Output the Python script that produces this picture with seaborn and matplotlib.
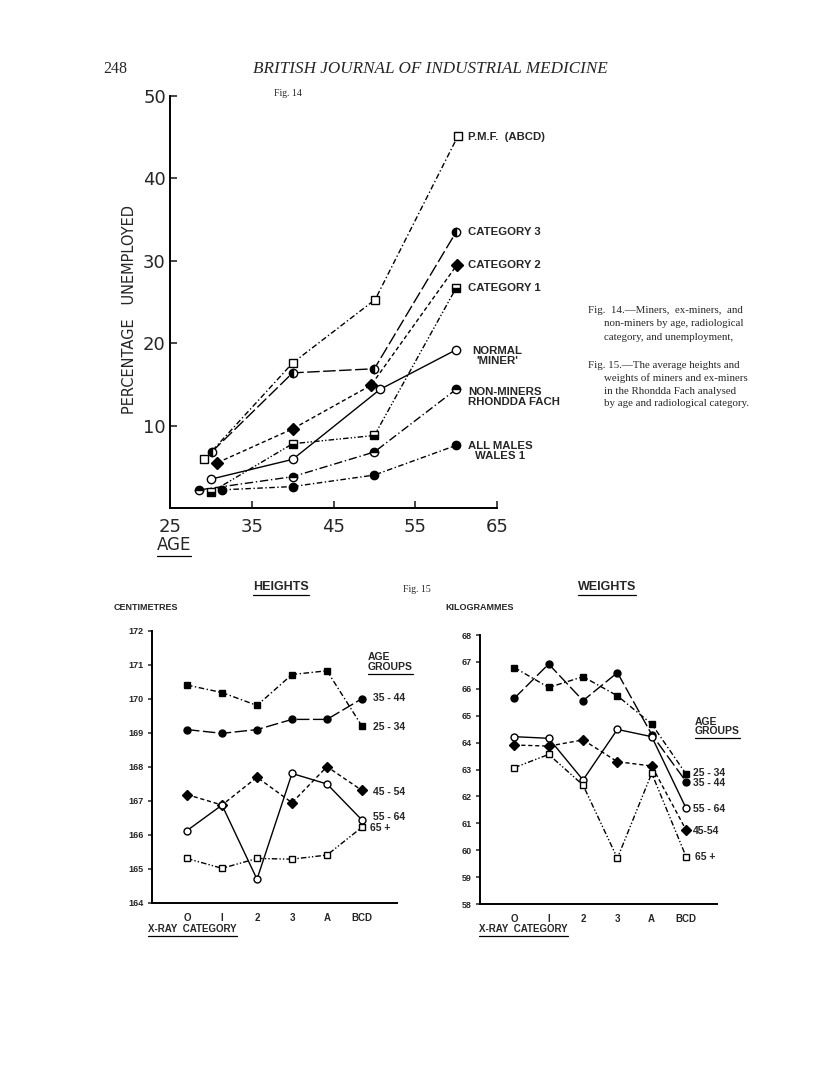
import matplotlib
matplotlib.use("Agg")
import matplotlib.pyplot as plt
import seaborn as sns
import numpy as np
from matplotlib.lines import Line2D

# ---------------- DATA ----------------
# Fig. 14: percentage unemployed by age
pmf_age = [29.2, 40.0, 50.1, 60.2]
pmf_pct = [5.9, 17.6, 25.3, 45.1]
cat3_age = [30.1, 40.0, 50.0, 60.0]
cat3_pct = [6.8, 16.4, 16.9, 33.5]
cat2_age = [30.8, 40.0, 49.6, 60.1]
cat2_pct = [5.5, 9.6, 14.9, 29.5]
cat1_age = [30.0, 40.0, 50.0, 60.0]
cat1_pct = [1.9, 7.8, 8.8, 26.7]
normal_age = [30.0, 40.0, 50.7, 60.0]
normal_pct = [3.5, 5.9, 14.4, 19.2]
nonminer_age = [28.6, 40.0, 50.0, 60.0]
nonminer_pct = [2.2, 3.8, 6.8, 14.4]
wales_age = [31.3, 40.0, 50.0, 60.0]
wales_pct = [2.2, 2.6, 4.0, 7.6]

fig14_xticks = [25, 35, 45, 55, 65]
fig14_yticks = [10, 20, 30, 40, 50]

# Fig. 15: X-ray categories
xray_categories = ["O", "I", "2", "3", "A", "BCD"]
age_groups = ["25 - 34", "35 - 44", "45 - 54", "55 - 64", "65 +"]

height_25_34 = [170.41, 170.19, 169.81, 170.72, 170.83, 169.20]
height_35_44 = [169.10, 168.99, 169.10, 169.40, 169.40, 170.01]
height_45_54 = [167.19, 166.88, 167.70, 166.95, 168.01, 167.31]
height_55_64 = [166.13, 166.88, 164.70, 167.81, 167.50, 166.44]
height_65_up = [165.31, 165.02, 165.31, 165.29, 165.41, 166.23]

weight_25_34 = [66.79, 66.05, 66.45, 65.74, 64.69, 62.83]
weight_35_44 = [65.65, 66.92, 65.56, 66.60, 64.30, 62.55]
weight_45_54 = [63.91, 63.87, 64.10, 63.29, 63.13, 60.75]
weight_55_64 = [64.22, 64.16, 62.61, 64.49, 64.22, 61.56]
weight_65_up = [63.07, 63.56, 62.42, 59.70, 62.86, 59.76]

height_ticks = list(range(164, 173))
weight_ticks = list(range(58, 69))

# ---------------- FIGURE ----------------
sns.set_style("ticks")
plt.rcParams['font.family'] = ['Liberation Sans', 'DejaVu Sans']

W, H = 816, 1077
fig = plt.figure(figsize=(W / 100, H / 100), dpi=100)
fig.patch.set_facecolor("white")


def axes_px(l, t, r, b):
    return fig.add_axes([l / W, 1 - b / H, (r - l) / W, (b - t) / H])


def ftext(x, y, s, **kw):
    return fig.text(x / W, 1 - y / H, s, **kw)


DASHDOT = (0, (4, 1.8, 1, 1.8))
DASHDOT2 = (0, (6, 2, 1, 2))
DASHDOTDOT = (0, (4, 1.5, 1, 1.5, 1, 1.5))
LONGDASH = (0, (9, 2.5))
SHORTDASH = (0, (3, 2))


def draw(ax, x, y, marker, ls, fill="full", face="black", ms=6, lw=1.0):
    sns.lineplot(x=x, y=y, ax=ax, color="black", linestyle=ls, linewidth=lw,
                 marker=marker, markersize=ms, markerfacecolor=face,
                 markeredgecolor="black", markeredgewidth=1.0,
                 fillstyle=fill, markerfacecoloralt="white",
                 sort=False, estimator=None, legend=False)


def style_axes(ax):
    for s in ["top", "right"]:
        ax.spines[s].set_visible(False)
    for s in ["left", "bottom"]:
        ax.spines[s].set_linewidth(1.4)
        ax.spines[s].set_color("black")
    ax.set_facecolor("white")
    ax.set_xlabel("")
    ax.set_ylabel("")


# ---------- Fig. 14 ----------
ax1 = axes_px(170, 96, 497, 508)
draw(ax1, pmf_age, pmf_pct, "s", DASHDOT, face="white")
draw(ax1, cat3_age, cat3_pct, "o", LONGDASH, fill="left")
draw(ax1, cat2_age, cat2_pct, "D", SHORTDASH, ms=6)
draw(ax1, cat1_age, cat1_pct, "s", DASHDOTDOT, fill="bottom")
draw(ax1, normal_age, normal_pct, "o", "-", face="white")
draw(ax1, nonminer_age, nonminer_pct, "o", DASHDOT2, fill="top")
draw(ax1, wales_age, wales_pct, "o", DASHDOT)
ax1.set_xlim(25, 65)
ax1.set_ylim(0, 50)
ax1.set_xticks(fig14_xticks)
ax1.set_yticks(fig14_yticks)
style_axes(ax1)
ax1.tick_params(axis="both", direction="in", length=5, width=1.2,
                labelsize=13, pad=6)
for lab in ax1.get_xticklabels() + ax1.get_yticklabels():
    lab.set_family("DejaVu Sans")
ax1.tick_params(axis="x", pad=7)
ax1.tick_params(axis="y", pad=3)

ftext(130, 310, "PERCENTAGE   UNEMPLOYED", rotation=90, ha="center",
      va="center", fontsize=10.5, family="DejaVu Sans")
t_age = ftext(157, 545, "AGE", ha="left", va="center", fontsize=12,
              family="DejaVu Sans")
ftext(274, 94, "Fig. 14", ha="left", va="center", fontsize=7,
      family="Liberation Serif", fontvariant="small-caps")

lab_kw = dict(fontsize=8.2, fontweight="bold", va="center", ha="left")
ftext(468, 137, "P.M.F.  (ABCD)", **lab_kw)
ftext(468, 232, "CATEGORY 3", **lab_kw)
ftext(468, 265, "CATEGORY 2", **lab_kw)
ftext(468, 288, "CATEGORY 1", **lab_kw)
ftext(497, 356, "NORMAL\n'MINER'", fontsize=8.2, fontweight="bold",
      va="center", ha="center", multialignment="center", linespacing=1.1)
ftext(468, 397, "NON-MINERS\nRHONDDA FACH", fontsize=8.2, fontweight="bold",
      va="center", ha="left", linespacing=1.1)
ftext(468, 451, "ALL MALES\nWALES 1", fontsize=8.2, fontweight="bold",
      va="center", ha="left", multialignment="center", linespacing=1.1)

# ---------- page header & captions ----------
ftext(103, 69, "248", ha="left", va="center", fontsize=11.5,
      family="Liberation Serif")
ftext(253, 69, "BRITISH JOURNAL OF INDUSTRIAL MEDICINE", ha="left",
      va="center", fontsize=12.3, family="Liberation Serif", style="italic")

cap_kw = dict(ha="left", va="center", fontsize=7.8, family="Liberation Serif")
ftext(588, 311, "Fig.  14.\u2014Miners,  ex-miners,  and", **cap_kw)
ftext(604, 324, "non-miners by age, radiological", **cap_kw)
ftext(604, 337, "category, and unemployment,", **cap_kw)
ftext(588, 365, "Fig. 15.\u2014The average heights and", fontvariant="small-caps", **cap_kw)
ftext(604, 378, "weights of miners and ex-miners", **cap_kw)
ftext(604, 391, "in the Rhondda Fach analysed", **cap_kw)
ftext(604, 404, "by age and radiological category.", **cap_kw)

# ---------- Fig. 15 ----------
xpos = list(range(len(xray_categories)))


def fig15(ax, series, yticks, ylim, xlim):
    s2534, s3544, s4554, s5564, s65 = series
    draw(ax, xpos, s2534, "s", DASHDOT, ms=5)
    draw(ax, xpos, s3544, "o", LONGDASH, ms=5)
    draw(ax, xpos, s4554, "D", SHORTDASH, ms=5)
    draw(ax, xpos, s5564, "o", "-", face="white", ms=5)
    draw(ax, xpos, s65, "s", DASHDOTDOT, face="white", ms=5)
    ax.set_xlim(*xlim)
    ax.set_ylim(*ylim)
    ax.set_xticks(xpos)
    ax.set_xticklabels(xray_categories)
    ax.set_yticks(yticks)
    style_axes(ax)
    ax.tick_params(axis="y", direction="out", length=3, width=1.1,
                   labelsize=6.5, pad=3)
    ax.tick_params(axis="x", direction="out", length=0, labelsize=7, pad=7)
    for lab in ax.get_xticklabels() + ax.get_yticklabels():
        lab.set_fontweight("bold")


ax2 = axes_px(152, 631, 397, 903)
fig15(ax2, [height_25_34, height_35_44, height_45_54, height_55_64,
            height_65_up], height_ticks, (164, 172), (-1, 6))
ax3 = axes_px(480, 635, 717, 904)
fig15(ax3, [weight_25_34, weight_35_44, weight_45_54, weight_55_64,
            weight_65_up], weight_ticks, (58, 68), (-1, 5.9))

ftext(417, 590, "Fig. 15", ha="center", va="center", fontsize=7,
      family="Liberation Serif", fontvariant="small-caps")
t_h = ftext(281, 587, "HEIGHTS", ha="center", va="center", fontsize=9,
            fontweight="bold")
t_w = ftext(607, 587, "WEIGHTS", ha="center", va="center", fontsize=9,
            fontweight="bold")
ftext(114, 607, "CENTIMETRES", ha="left", va="center", fontsize=6.5,
      fontweight="bold")
ftext(445, 607, "KILOGRAMMES", ha="left", va="center", fontsize=6.5,
      fontweight="bold")
t_x1 = ftext(148, 929, "X-RAY  CATEGORY", ha="left", va="center",
             fontsize=7, fontweight="bold")
t_x2 = ftext(479, 929, "X-RAY  CATEGORY", ha="left", va="center",
             fontsize=7, fontweight="bold")

g_kw = dict(fontsize=7.5, fontweight="bold", va="center", ha="left")
ftext(368, 657, "AGE", **g_kw)
t_g1 = ftext(368, 667, "GROUPS", **g_kw)
ftext(373, 698, "35 - 44", **g_kw)
ftext(373, 727, "25 - 34", **g_kw)
ftext(373, 792, "45 - 54", **g_kw)
ftext(373, 817, "55 - 64", **g_kw)
ftext(370, 828, "65 +", **g_kw)

ftext(695, 722, "AGE", **g_kw)
t_g2 = ftext(695, 731, "GROUPS", **g_kw)
ftext(693, 773, "25 - 34", **g_kw)
ftext(693, 783, "35 - 44", **g_kw)
ftext(693, 809, "55 - 64", **g_kw)
ftext(693, 831, "45-54", **g_kw)
ftext(695, 857, "65 +", **g_kw)

# underlines
fig.canvas.draw()
renderer = fig.canvas.get_renderer()
for t in [t_age, t_h, t_w, t_x1, t_x2, t_g1, t_g2]:
    bb = t.get_window_extent(renderer)
    y = bb.y0 - 1.5
    fig.add_artist(Line2D([bb.x0 / W, bb.x1 / W], [y / H, y / H],
                          transform=fig.transFigure, color="black",
                          linewidth=0.9))

fig.savefig("out.png", dpi=100, facecolor="white")
